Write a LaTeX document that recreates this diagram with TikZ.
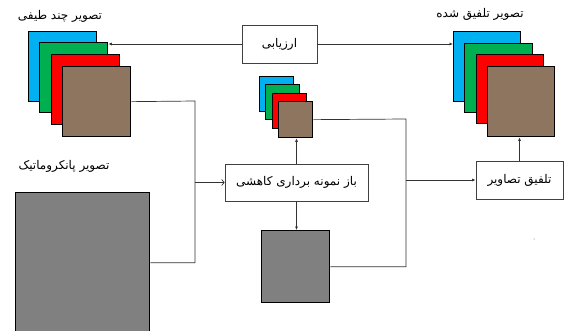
\documentclass[tikz,border=0pt]{standalone}
\usepackage{fontspec}
\newfontfamily\fa[Script=Arabic]{DejaVu Sans}
\TeXXeTstate=1
\usetikzlibrary{arrows.meta}
\definecolor{cblue}{RGB}{0,176,240}
\definecolor{cgreen}{RGB}{0,176,80}
\definecolor{cred}{RGB}{255,0,0}
\definecolor{cbrown}{RGB}{141,117,96}
\definecolor{cgray}{RGB}{128,128,128}
\tikzset{
  sq/.style={draw=black, line width=1.3pt, inner sep=0pt, anchor=north west, minimum width=#1pt, minimum height=#1pt},
  procbox/.style={draw=black!75, line width=0.7pt, fill=white, inner sep=0pt, font=\fa\fontsize{12}{14}\selectfont},
  lbl/.style={font=\fa\fontsize{12}{14}\selectfont, inner sep=0pt},
  conn/.style={draw=black!80, line width=0.7pt},
  arr/.style={conn, -{Latex[length=3.5pt,width=3pt]}},
  openarr/.style={conn, -{Straight Barb[length=2.5pt,width=6pt]}}
}
\begin{document}
\begin{tikzpicture}[x=1pt,y=-1pt]
\useasboundingbox (0,0) rectangle (564,330);
% left multispectral stack
\node[sq=68, fill=cblue, minimum height=70pt] (lA) at (28,31) {};
\node[sq=68, fill=cgreen, minimum height=70pt] (lG) at (39,42) {};
\node[sq=68, fill=cred, minimum height=70pt] (lR) at (51,54) {};
\node[sq=68, fill=cbrown, minimum height=70pt] (lB) at (62,66) {};
\node[lbl] (lLbl) at (60,16) {\beginR تصویر چند طیفی\endR};
% panchromatic
\node[sq=134, fill=cgray, minimum height=140pt] (pan) at (15,192) {};
\node[lbl] (panLbl) at (64,166) {\beginR تصویر پانکروماتیک\endR};
% right fused stack
\node[sq=67, fill=cblue, minimum height=70pt] (rA) at (453,31) {};
\node[sq=68, fill=cgreen, minimum height=69pt] (rG) at (464,43) {};
\node[sq=67, fill=cred, minimum height=69pt] (rR) at (476,54) {};
\node[sq=67, fill=cbrown, minimum height=70pt] (rB) at (487,66) {};
\node[lbl] (rLbl) at (480,14) {\beginR تصویر تلفیق شده\endR};
% small stack
\node[sq=34, fill=cblue, minimum height=35pt] (sA) at (259,76) {};
\node[sq=34, fill=cgreen, minimum height=35pt] (sG) at (265,84) {};
\node[sq=34, fill=cred, minimum height=35pt] (sR) at (272,93) {};
\node[sq=34, fill=cbrown, minimum height=36pt] (sB) at (278,101) {};
% small gray image
\node[sq=68, fill=cgray, minimum height=72pt] (sg) at (261,230) {};
% process boxes
\node[procbox, minimum width=75pt, minimum height=38pt] (eval) at (279.5,44) {\beginR ارزیابی\endR};
\node[procbox, minimum width=143pt, minimum height=37pt] (down) at (296.5,182.5) {\beginR باز نمونه برداری کاهشی\endR};
\node[procbox, minimum width=87pt, minimum height=38pt] (fus) at (519.5,180) {\beginR تلفیق تصاویر\endR};
% connectors
\coordinate (j1) at (195,182.5);
\draw[conn] (lB.east) -- (195,101) |- (pan.east);
\draw[openarr] (j1) -- (down.west);
\draw[arr] (down.north) -- (down.north |- sB.south);
\draw[arr] (down.south) -- (down.south |- sg.north);
\coordinate (j2) at (406,180);
\draw[conn] (sg.east) -| (406,119) -- (sB.east);
\draw[arr] (j2) -- (fus.west);
\draw[arr] (fus.north) -- (fus.north |- rB.south);
\draw[arr] (eval.west) -- (eval.west -| lG.east);
\draw[arr] (eval.east) -- (eval.east -| rA.west);
\fill[black!60] (534,239) circle (0.5pt);
\end{tikzpicture}
\end{document}
